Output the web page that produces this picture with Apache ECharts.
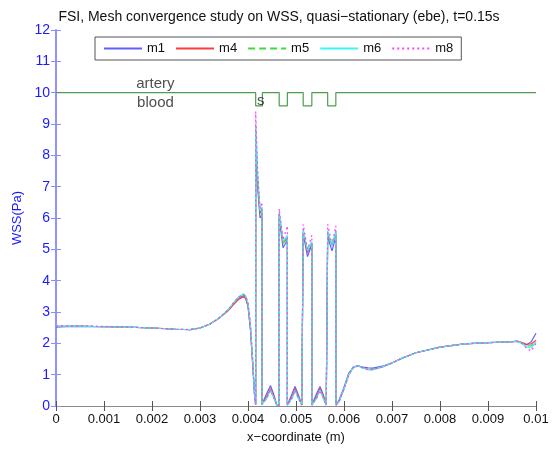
<!DOCTYPE html>
<html>
<head>
<meta charset="utf-8">
<script src="https://cdn.jsdelivr.net/npm/echarts@6/dist/echarts.min.js"></script>
<style>html,body{margin:0;padding:0;background:#fff;}#c{width:558px;height:449px;}</style>
</head>
<body>
<div id="c"></div>
<script>
// ---- data ----
const xs = [
  0, 0.0002, 0.0005, 0.001, 0.0015, 0.002, 0.0025, 0.0028, 0.003, 0.0032, 0.0034, 0.0036, 0.0037, 0.0038, 0.0039, 0.00395, 0.004, 0.00405, 0.0041, 0.00414,
  0.00416, 0.00416, 0.0042, 0.00425, 0.00429, 0.00429,
  0.00432, 0.00439, 0.00447, 0.00454, 0.0046,
  0.00465, 0.00465, 0.00473, 0.00482, 0.00482,
  0.00486, 0.00492, 0.00498, 0.00505, 0.00512,
  0.00515, 0.00515, 0.00524, 0.00533, 0.00533,
  0.00537, 0.00543, 0.0055, 0.00557, 0.00563,
  0.00566, 0.00566, 0.00575, 0.00583, 0.00583,
  0.0059, 0.006, 0.0061, 0.0062, 0.0063, 0.0064, 0.0065, 0.0066, 0.0068, 0.007, 0.0072, 0.0075, 0.008, 0.0085, 0.009, 0.0095, 0.0096, 0.0097, 0.0098, 0.0099, 0.01
];
const m1 = [
  2.52, 2.53, 2.54, 2.53, 2.52, 2.49, 2.45, 2.44, 2.49, 2.61, 2.81, 3.08, 3.26, 3.43, 3.52, 3.46, 3.18, 2.45, 1.25, 0.25,
  0.05, 8.3, 7.0, 6.0, 6.1, 0.05,
  0.05, 0.4, 0.65, 0.35, 0.03,
  0.03, 6.0, 5.05, 5.3, 0.03,
  0.05, 0.4, 0.62, 0.35, 0.03,
  0.03, 5.5, 4.77, 5.15, 0.03,
  0.05, 0.4, 0.62, 0.35, 0.03,
  0.03, 5.4, 4.95, 5.4, 0.03,
  0.2, 0.6, 1.05, 1.24, 1.27, 1.24, 1.22, 1.21, 1.27, 1.38, 1.52, 1.70, 1.88, 1.98, 2.02, 2.05, 2.08, 2.02, 1.95, 2.05, 2.32
];
const m4 = [
  2.54, 2.54, 2.55, 2.53, 2.52, 2.49, 2.45, 2.44, 2.49, 2.61, 2.80, 3.06, 3.24, 3.40, 3.48, 3.44, 3.20, 2.50, 1.30, 0.30,
  0.05, 8.6, 7.2, 6.15, 6.25, 0.05,
  0.05, 0.3, 0.55, 0.3, 0.03,
  0.03, 6.1, 5.2, 5.35, 0.03,
  0.05, 0.3, 0.55, 0.3, 0.03,
  0.03, 5.55, 4.9, 5.2, 0.03,
  0.05, 0.3, 0.55, 0.3, 0.03,
  0.03, 5.5, 5.15, 5.5, 0.03,
  0.15, 0.55, 1.0, 1.26, 1.28, 1.22, 1.17, 1.17, 1.25, 1.37, 1.52, 1.70, 1.88, 1.98, 2.02, 2.05, 2.06, 2.03, 1.97, 1.98, 2.10
];
const m5 = [
  2.54, 2.55, 2.55, 2.53, 2.52, 2.49, 2.45, 2.44, 2.49, 2.61, 2.81, 3.09, 3.28, 3.45, 3.55, 3.50, 3.25, 2.55, 1.35, 0.30,
  0.05, 8.8, 7.3, 6.2, 6.3, 0.05,
  0.05, 0.25, 0.5, 0.25, 0.03,
  0.03, 6.15, 5.2, 5.4, 0.03,
  0.05, 0.25, 0.5, 0.25, 0.03,
  0.03, 5.6, 4.95, 5.25, 0.03,
  0.05, 0.25, 0.5, 0.25, 0.03,
  0.03, 5.55, 5.1, 5.55, 0.03,
  0.15, 0.55, 1.0, 1.25, 1.28, 1.21, 1.16, 1.16, 1.25, 1.37, 1.52, 1.70, 1.88, 1.98, 2.02, 2.05, 2.06, 2.02, 1.92, 1.92, 2.05
];
const m6 = [
  2.55, 2.55, 2.55, 2.53, 2.52, 2.49, 2.45, 2.44, 2.49, 2.61, 2.81, 3.10, 3.30, 3.48, 3.58, 3.52, 3.28, 2.60, 1.40, 0.30,
  0.05, 9.0, 7.4, 6.25, 6.35, 0.05,
  0.05, 0.25, 0.5, 0.25, 0.03,
  0.03, 6.2, 5.25, 5.45, 0.03,
  0.05, 0.25, 0.5, 0.25, 0.03,
  0.03, 5.65, 4.95, 5.25, 0.03,
  0.05, 0.25, 0.5, 0.25, 0.03,
  0.03, 5.6, 5.1, 5.6, 0.03,
  0.15, 0.55, 1.0, 1.25, 1.28, 1.21, 1.16, 1.16, 1.25, 1.37, 1.52, 1.70, 1.88, 1.98, 2.02, 2.05, 2.07, 2.0, 1.88, 1.85, 2.05
];
const m8 = [
  2.55, 2.56, 2.56, 2.54, 2.52, 2.49, 2.45, 2.44, 2.49, 2.61, 2.81, 3.10, 3.30, 3.47, 3.56, 3.52, 3.30, 2.65, 1.45, 0.30,
  0.05, 9.4, 7.6, 6.3, 6.5, 0.05,
  0.05, 0.25, 0.5, 0.25, 0.03,
  0.03, 6.3, 5.3, 5.75, 0.03,
  0.05, 0.25, 0.5, 0.25, 0.03,
  0.03, 5.8, 5.0, 5.45, 0.03,
  0.05, 0.25, 0.5, 0.25, 0.03,
  0.03, 5.8, 5.15, 5.75, 0.03,
  0.15, 0.55, 1.0, 1.25, 1.28, 1.21, 1.16, 1.16, 1.25, 1.37, 1.52, 1.70, 1.88, 1.98, 2.02, 2.05, 2.07, 2.0, 1.85, 1.75, 2.0
];
const arteryX = [0, 0.00416, 0.00416, 0.0043, 0.0043, 0.00465, 0.00465, 0.00482, 0.00482, 0.00515, 0.00515, 0.00533, 0.00533, 0.00566, 0.00566, 0.00583, 0.00583, 0.01];
const arteryY = [10, 10, 9.58, 9.58, 10, 10, 9.58, 9.58, 10, 10, 9.58, 9.58, 10, 10, 9.58, 9.58, 10, 10];
const annotX = [0.00167, 0.00169, 0.004185];
const annotY = [10.27, 9.68, 9.73];
const annotText = ['artery', 'blood', 's'];
const seriesNames = ['m1', 'm4', 'm5', 'm6', 'm8'];
const seriesColors = ['#6060ff', '#ff3b3b', '#3ddc3d', '#3cf5f5', '#ff40ff'];
const seriesDash = ['solid', 'solid', [7, 4], 'solid', [2, 3]];
const xTickLabels = ['0', '0.001', '0.002', '0.003', '0.004', '0.005', '0.006', '0.007', '0.008', '0.009', '0.01'];
const yTickLabels = ['0', '1', '2', '3', '4', '5', '6', '7', '8', '9', '10', '11', '12'];

const allY = [m1, m4, m5, m6, m8];
const FONT = 'Liberation Sans, Arial, Helvetica, sans-serif';

const chart = echarts.init(document.getElementById('c'), null, {renderer: 'canvas'});
const series = seriesNames.map((n, i) => ({
  name: n,
  type: 'line',
  symbol: 'none',
  animation: false,
  data: xs.map((x, k) => [x, allY[i][k]]),
  lineStyle: {color: seriesColors[i], width: 1.2, type: seriesDash[i]},
  itemStyle: {color: seriesColors[i]},
  z: 3 + i
}));
series.unshift({
  name: 'artery',
  type: 'line',
  symbol: 'none',
  animation: false,
  data: arteryX.map((x, k) => [x, arteryY[k]]),
  lineStyle: {color: '#4b9e4b', width: 1.2},
  z: 2
});
series.push({
  name: 'annot',
  type: 'scatter',
  symbolSize: 0,
  animation: false,
  silent: true,
  data: annotX.map((x, k) => [x, annotY[k], annotText[k]]),
  label: {
    show: true,
    position: [0, 0],
    align: 'left',
    verticalAlign: 'middle',
    formatter: p => p.data[2],
    fontFamily: FONT,
    fontSize: 15,
    color: '#222'
  },
  z: 10
});

const xAxisCommon = {type: 'value', min: 0, max: 0.01, interval: 0.001, splitLine: {show: false}};
const yAxisCommon = {type: 'value', min: 0, max: 12, interval: 1, splitLine: {show: false}};

chart.setOption({
  backgroundColor: '#fff',
  animation: false,
  title: {
    text: 'FSI, Mesh convergence study on WSS, quasi\u2212stationary (ebe), t=0.15s',
    left: 'center', top: 5,
    textStyle: {fontFamily: FONT, fontSize: 14, fontWeight: 'normal', color: '#111'}
  },
  legend: {
    data: seriesNames,
    left: 95, top: 37,
    padding: [5, 8],
    itemWidth: 38, itemHeight: 14, itemGap: 10,
    borderColor: '#555', borderWidth: 1, backgroundColor: '#fff',
    itemStyle: {opacity: 0},
    textStyle: {fontFamily: FONT, fontSize: 13, color: '#111'}
  },
  grid: {left: 56, right: 22, top: 30, bottom: 43, containLabel: false},
  xAxis: [
    Object.assign({}, xAxisCommon, {
      position: 'bottom',
      name: 'x\u2212coordinate (m)', nameLocation: 'middle', nameGap: 24,
      nameTextStyle: {fontFamily: FONT, fontSize: 13, color: '#111'},
      axisLine: {show: true, lineStyle: {color: '#8a8a8a', width: 1}},
      axisTick: {show: true, inside: true, length: 5, lineStyle: {color: '#555'}},
      axisLabel: {show: true, margin: 7, fontFamily: FONT, fontSize: 13, color: '#111',
        formatter: v => xTickLabels[Math.round(v / 0.001)]}
    }),
    Object.assign({}, xAxisCommon, {
      position: 'top',
      axisLine: {show: true, lineStyle: {color: '#8a8a8a', width: 1}},
      axisTick: {show: true, inside: true, length: 5, lineStyle: {color: '#555'}},
      axisLabel: {show: false}
    })
  ],
  yAxis: [
    Object.assign({}, yAxisCommon, {
      position: 'left',
      name: 'WSS(Pa)', nameLocation: 'middle', nameGap: 27,
      nameTextStyle: {fontFamily: FONT, fontSize: 13, color: '#1a1aff'},
      axisLine: {show: true, lineStyle: {color: '#8c8cff', width: 1.5}},
      axisTick: {show: true, inside: true, length: 5, lineStyle: {color: '#8c8cff'}},
      axisLabel: {show: true, margin: 6, fontFamily: FONT, fontSize: 14, color: '#1a1aff',
        formatter: v => yTickLabels[Math.round(v)]}
    }),
    Object.assign({}, yAxisCommon, {
      position: 'right',
      axisLine: {show: true, lineStyle: {color: '#8c8cff', width: 1.5}},
      axisTick: {show: true, inside: true, length: 5, lineStyle: {color: '#8c8cff'}},
      axisLabel: {show: false}
    })
  ],
  series: series
});
</script>
</body>
</html>
